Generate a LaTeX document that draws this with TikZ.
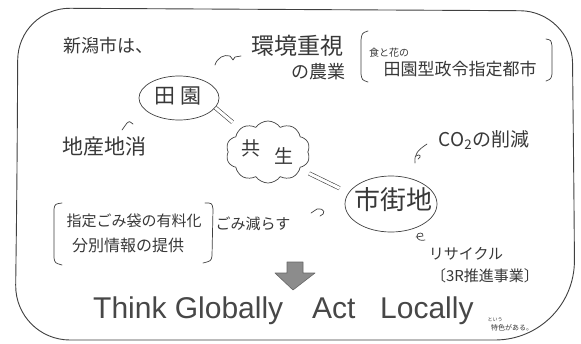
\documentclass[tikz,border=0pt]{standalone}
\usepackage{fontspec}
\setmainfont{Liberation Sans}
\newfontfamily\jpf{Noto Sans CJK JP}
\newcommand\jsz[1]{\fontsize{#1}{#1}\selectfont\jpf}
\newcommand\esz[1]{\fontsize{#1}{#1}\selectfont}
\usetikzlibrary{shapes.geometric,shapes.symbols}
\begin{document}
\begin{tikzpicture}[x=1pt,y=-1pt,
  ink/.style={draw=black!75, line width=0.7pt, line cap=round, line join=round},
  jtxt/.style={text=black!78, inner sep=0pt},
  etxt/.style={text=black!72, inner sep=0pt, anchor=base west, font=\esz{30}},
  dbl/.style={draw=black!75, line width=0.6pt, double=white, double distance=3pt},
  bubble/.style={ellipse, ink, inner sep=0pt}
]
\useasboundingbox (0,0) rectangle (581,343);
\fill[white] (0,0) rectangle (581,343);
% frame
\draw[ink, line width=0.9pt] (17,180) [rounded corners=52] -- (18,8) -- (572,11)
  -- (574,200) [rounded corners=80] -- (575,340) [rounded corners=55] -- (15,340) -- cycle;

% texts upper left
\node[jtxt, font=\jsz{18}] (niigata) at (108,46) {新潟市は、};
\node[jtxt, font=\jsz{23}] (kankyo) at (297,46) {環境重視};
\node[jtxt, font=\jsz{18}] (nogyo) at (318,72) {の農業};
\node[jtxt, font=\jsz{10}] (shoku) at (389,53) {食と花の};
\node[jtxt, font=\jsz{17}] (seirei) at (460,69) {田園型政令指定都市};
\draw[ink] (368,31) .. controls (362,33) .. (361,40) -- (361,74) .. controls (362,80) .. (368,82);
\draw[ink] (546,39) .. controls (551,40) .. (552,46) -- (552,74) .. controls (551,79) .. (546,81);
\draw[ink] (215,65) .. controls (217,58) and (224,54) .. (230,56) -- (233,60) -- (235,57) -- (241,56);

% den-en
\node[bubble, minimum width=80, minimum height=44] (den) at (179,98) {};
\node[jtxt, font=\jsz{21}] (dent) at (178,96) {田\hspace{5pt}園};

\node[jtxt, font=\jsz{21}] (chisan) at (104,147) {地産地消};
\draw[ink] (122,130) -- (127,123) .. controls (129,121) .. (133,124);

% kyosei cloud
\node[cloud, ink, cloud puffs=10, cloud puff arc=110, aspect=1.35,
  minimum width=84, minimum height=62, inner sep=0pt] (kyo) at (268,152) {};
\node[jtxt, font=\jsz{19}] (kyot) at (267,152) {\raisebox{4pt}{共}\hspace{14pt}\raisebox{-4pt}{生}};

% shigaichi
\node[bubble, minimum width=92, minimum height=56] (gai) at (391,204) {};
\node[jtxt, font=\jsz{26}] (gait) at (393,200) {市街地};

\draw[dbl, shorten >=10pt] (den.-15) -- (kyo.140);
\draw[dbl, shorten <=10pt, shorten >=10pt] (kyo.-28) -- (gai.165);

% CO2
\node[jtxt, font=\jsz{19}] (co2) at (484,140) {CO\textsubscript{2}の削減};
\draw[ink] (415,163) .. controls (414,154) and (418,150) .. (427,144);
\draw[ink] (416,156) .. controls (420,153) and (422,157) .. (418,159);

% gomi
\node[jtxt, font=\jsz{15}] (yuryo) at (134,221) {指定ごみ袋の有料化};
\node[jtxt, font=\jsz{16}] (bunbetsu) at (128,245) {分別情報の提供};
\draw[ink] (62,203) .. controls (55,204) .. (54,209) -- (54,258) .. controls (55,263) .. (62,265);
\draw[ink] (205,203) .. controls (212,203) .. (213,209) -- (212,256) .. controls (211,261) .. (203,263);
\node[jtxt, font=\jsz{15}] (herasu) at (253,224) {ごみ減らす};
\draw[ink] (311,213) -- (317,209) .. controls (325,208) and (326,214) .. (320,216);

% recycle
\draw[ink] (416,237) -- (423,236) .. controls (424,232) and (417,232) .. (417,236) .. controls (417,240) and (421,241) .. (425,240);
\node[jtxt, font=\jsz{15}] (recycle) at (466,254) {リサイクル};
\node[jtxt, font=\jsz{15}] (threeR) at (485,276) {〔3R推進事業〕};

% arrow
\filldraw[fill=black!45, draw=black!60, line width=0.6pt, line join=round]
  (287,262) -- (303,262) -- (303,273) -- (315,273) -- (293,290) -- (275,273) -- (287,273) -- cycle;

% slogan
\node[etxt] (think) at (93,318) {Think Globally};
\node[etxt] (act) at (312,318) {Act};
\node[etxt] (locally) at (380,318) {Locally};
\node[jtxt, font=\jsz{5}] (toiu) at (495,320) {という};
\node[jtxt, font=\jsz{7}] (tokushoku) at (512,328) {特色がある。};
\end{tikzpicture}
\end{document}
